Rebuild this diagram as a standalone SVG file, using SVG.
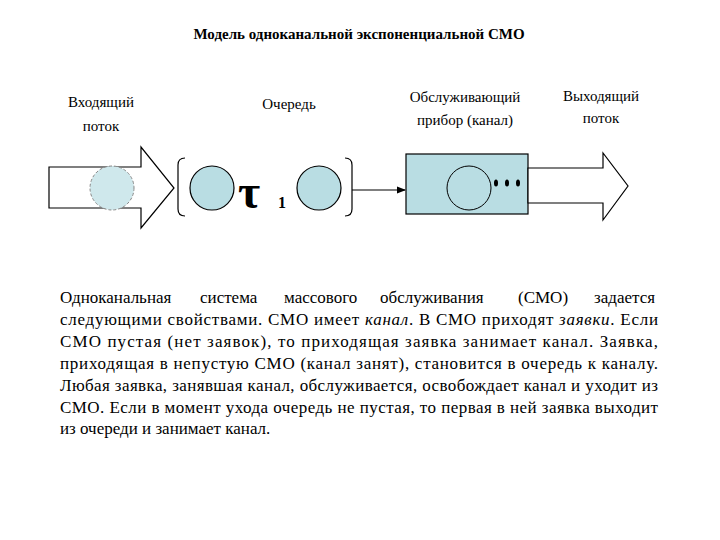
<svg xmlns="http://www.w3.org/2000/svg" width="720" height="540" viewBox="0 0 720 540">
<style>
text{font-family:'Liberation Serif','DejaVu Serif',serif;fill:#000}
.h{font-size:15px;text-anchor:middle}
.c{fill:#b9dde3;stroke:#000;stroke-width:1.2}
.o{fill:#fff;stroke:#000;stroke-width:1.2}
.b{fill:none;stroke:#000;stroke-width:1.2}
</style>
<defs><marker id="a" markerWidth="8" markerHeight="8" refX="7" refY="4" orient="auto"><path d="M0,1 L8,4 L0,7 Z" fill="#000"/></marker></defs>
<rect width="720" height="540" fill="#fff"/>
<text x="359" y="39" class="h" font-weight="bold" font-family="Liberation Serif, serif">Модель одноканальной экспоненциальной СМО</text>
<text x="101" y="107" class="h" font-family="Liberation Serif, serif">Входящий</text><text x="101" y="131" class="h" font-family="Liberation Serif, serif">поток</text>
<text x="289" y="109" class="h" font-family="Liberation Serif, serif">Очередь</text>
<text x="465" y="102" class="h" font-family="Liberation Serif, serif">Обслуживающий</text><text x="465" y="125" class="h" font-family="Liberation Serif, serif">прибор (канал)</text>
<text x="601" y="101" class="h" font-family="Liberation Serif, serif">Выходящий</text><text x="601" y="123" class="h" font-family="Liberation Serif, serif">поток</text>
<g id="input"><path class="o" d="M49,167 H141 V147 L174,188 L141,228 V208 H49 Z"/><circle cx="112" cy="188" r="22" fill="#cfe8ec" stroke="#888" stroke-dasharray="3 2"/></g>
<g id="queue">
<path class="b" d="M185,158 Q178,158 178,165 V209 Q178,216 185,216"/>
<circle class="c" cx="212" cy="188" r="22"/>
<text x="238" y="208" font-family="Liberation Serif, serif" font-size="48" font-weight="bold">τ</text>
<text x="278" y="208" font-family="Liberation Serif, serif" font-size="16" font-weight="bold">1</text>
<circle class="c" cx="319" cy="188" r="22"/>
<path class="b" d="M345,158 Q352,158 352,165 V209 Q352,216 345,216"/>
</g>
<g id="connectors"><line x1="352" y1="190" x2="405" y2="190" stroke="#000" stroke-width="1.2" marker-end="url(#a)"/></g>
<g id="server"><rect class="c" x="406" y="154" width="122" height="60"/><circle cx="469" cy="188" r="22" fill="none" stroke="#000"/>
<ellipse cx="496" cy="183" rx="2" ry="3.5"/><ellipse cx="507" cy="183" rx="2" ry="3.5"/><ellipse cx="518" cy="183" rx="2" ry="3.5"/></g>
<g id="output"><path class="o" d="M528,168 H603 V153 L628,186 L603,220 V203 H528 Z"/></g>
<g font-family="Liberation Serif, serif" font-size="17">
<text y="303"><tspan x="60">Одноканальная</tspan><tspan x="200">система</tspan><tspan x="284">массового</tspan><tspan x="380">обслуживания</tspan><tspan x="518">(СМО)</tspan><tspan x="594">задается</tspan></text>
<text x="60" y="325" textLength="598" lengthAdjust="spacing">следующими свойствами. СМО имеет <tspan font-style="italic">канал</tspan>. В СМО приходят <tspan font-style="italic">заявки</tspan>. Если</text>
<text x="60" y="347" textLength="598" lengthAdjust="spacing">СМО пустая (нет заявок), то приходящая заявка занимает канал. Заявка,</text>
<text x="60" y="369" textLength="598" lengthAdjust="spacing">приходящая в непустую СМО (канал занят), становится в очередь к каналу.</text>
<text x="60" y="391" textLength="598" lengthAdjust="spacing">Любая заявка, занявшая канал, обслуживается, освобождает канал и уходит из</text>
<text x="60" y="413" textLength="598" lengthAdjust="spacing">СМО. Если в момент ухода очередь не пустая, то первая в ней заявка выходит</text>
<text x="60" y="434">из очереди и занимает канал.</text>
</g>
</svg>
